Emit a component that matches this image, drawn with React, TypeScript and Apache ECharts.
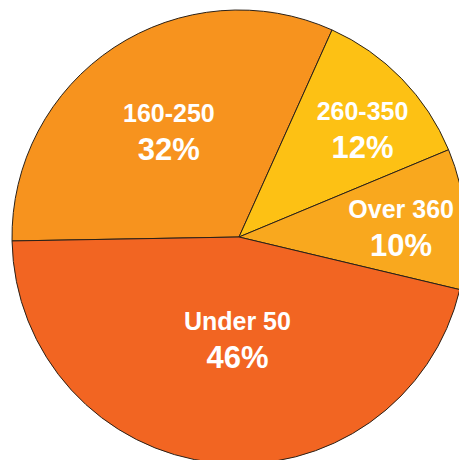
import React, { useEffect, useRef } from "react";
import * as echarts from "echarts";

const categories = ["160-250", "260-350", "Over 360", "Under 50"];
const shares = [32, 12, 10, 46];
const colors = ["#F7931E", "#FDC114", "#F9A81E", "#F26522"];
const labelOffsets = [
  [-6, -8],
  [40, -26],
  [46, 0],
  [11, -13],
];

export default function App() {
  const ref = useRef<HTMLDivElement>(null);
  useEffect(() => {
    if (!ref.current) return;
    const chart = echarts.init(ref.current, null, { renderer: "svg" });
    const font = "'Liberation Sans', Arial, Helvetica, sans-serif";
    chart.setOption({
      animation: false,
      backgroundColor: "#ffffff",
      series: [
        {
          type: "pie",
          center: [239, 237],
          radius: [0, 227],
          startAngle: 181,
          clockwise: true,
          avoidLabelOverlap: false,
          labelLine: { show: false },
          itemStyle: { borderColor: "#2a2118", borderWidth: 1 },
          label: {
            show: true,
            position: "inside",
            formatter: "{n|{b}}\n{p|{d}%}",
            rich: {
              n: {
                fontFamily: font,
                fontWeight: "bold",
                fontSize: 25,
                lineHeight: 36,
                color: "#ffffff",
                align: "center",
              },
              p: {
                fontFamily: font,
                fontWeight: "bold",
                fontSize: 31,
                lineHeight: 38,
                color: "#ffffff",
                align: "center",
              },
            },
          },
          data: categories.map((name, i) => ({
            name,
            value: shares[i],
            itemStyle: { color: colors[i] },
            label: { offset: labelOffsets[i] },
          })),
        },
      ],
    });
    return () => chart.dispose();
  }, []);
  return <div ref={ref} style={{ width: 459, height: 460, position: "absolute", left: 0, top: 0 }} />;
}
